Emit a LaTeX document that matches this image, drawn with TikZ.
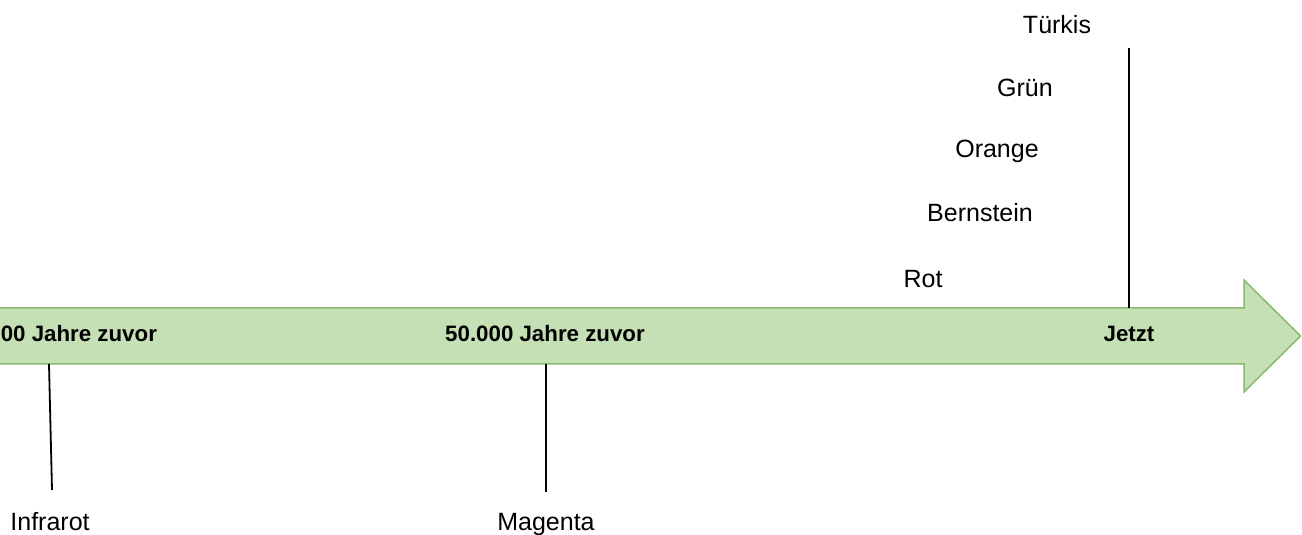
\documentclass[tikz,border=0pt]{standalone}
\usepackage{fontspec}
\setmainfont{Liberation Sans}
\definecolor{arrowfill}{HTML}{C5E0B4}
\definecolor{arrowline}{HTML}{8CB872}
\begin{document}
\begin{tikzpicture}[x=1pt,y=1pt,
  lbl/.style={inner sep=0pt,anchor=base,font=\fontsize{25}{30}\selectfont},
  era/.style={inner sep=0pt,anchor=base,font=\fontsize{22.3}{26}\selectfont\bfseries},
  tick/.style={draw=black,line width=1.8pt}]
\useasboundingbox (0,0) rectangle (1302,535);
\clip (0,0) rectangle (1302,535);
% timeline arrow
\draw[fill=arrowfill,draw=arrowline,line width=1.5pt,line join=miter]
  (-10,227) -- (1244,227) -- (1244,255) -- (1300.5,199) -- (1244,143) -- (1244,171) -- (-10,171) -- cycle;
% era labels
\node[era] (e100) at (51,193) {100.000 Jahre zuvor};
\node[era] (e50) at (545,193) {50.000 Jahre zuvor};
\node[era] (now) at (1129,193) {Jetzt};
% tick anchors
\coordinate (t1a) at (49,171);
\coordinate (t1b) at (52,45);
\coordinate (t2a) at (546,171);
\coordinate (t2b) at (546,43);
\coordinate (t3a) at (1129,227);
\coordinate (t3b) at (1129,487);
\draw[tick] (t1a) -- (t1b);
\draw[tick] (t2a) -- (t2b);
\draw[tick] (t3a) -- (t3b);
% colour labels
\node[lbl] (infrarot) at (50,4) {Infrarot};
\node[lbl] (magenta) at (546,4) {Magenta};
\node[lbl] (tuerkis) at (1057,501) {Türkis};
\node[lbl] (gruen) at (1025,438) {Grün};
\node[lbl] (orange) at (997,377) {Orange};
\node[lbl] (bernstein) at (980,313) {Bernstein};
\node[lbl] (rot) at (923,247) {Rot};
\end{tikzpicture}
\end{document}
